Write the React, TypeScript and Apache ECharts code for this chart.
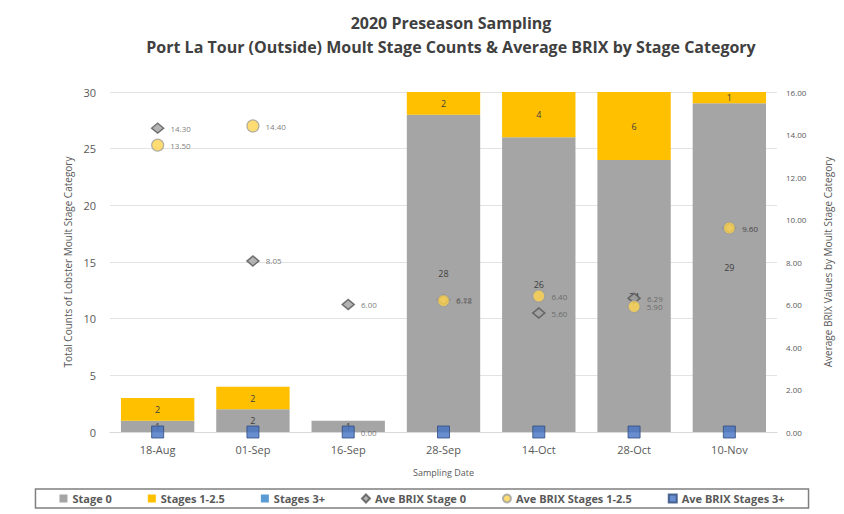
import React, { useEffect, useRef } from "react";
import * as echarts from "echarts";

const categories = ["18-Aug", "01-Sep", "16-Sep", "28-Sep", "14-Oct", "28-Oct", "10-Nov"];
const stage0Counts = [1, 2, 1, 28, 26, 24, 29];
const stages125Counts = [2, 2, 0, 2, 4, 6, 1];
const stages3Counts = [0, 0, 0, 0, 0, 0, 0];
const brixStage0: (number | null)[] = [14.3, 8.05, 6.0, 6.22, 5.6, 6.29, 9.6];
const brixStages125: (number | null)[] = [13.5, 14.4, null, 6.18, 6.4, 5.9, 9.6];
const brixStages3: (number | null)[] = [0, 0, 0, 0, 0, 0, 0];

const FONT = "'Open Sans', 'Noto Sans', sans-serif";
const TXT = "#595959";

export default function App() {
  const ref = useRef<HTMLDivElement>(null);
  useEffect(() => {
    if (!ref.current) return;
    const chart = echarts.init(ref.current, null, { renderer: "svg" });
    const countLabel = {
      show: true,
      position: "inside",
      fontSize: 9,
      color: "#404040",
      fontFamily: FONT,
      formatter: (p: any) => (p.value ? String(p.value) : ""),
    };
    const brixLabel = {
      show: true,
      position: "right",
      distance: 6,
      fontSize: 8,
      color: TXT,
      fontFamily: FONT,
      formatter: (p: any) => (p.value == null ? "" : Number(p.value).toFixed(2)),
    };
    chart.setOption({
      animation: false,
      backgroundColor: "#fff",
      textStyle: { fontFamily: FONT },
      title: {
        text: "2020 Preseason Sampling\nPort La Tour (Outside) Moult Stage Counts & Average BRIX by Stage Category",
        left: 446,
        top: 6,
        textAlign: "center",
        textStyle: { fontSize: 16, fontWeight: "bold", color: "#404040", lineHeight: 24, fontFamily: FONT },
      },
      legend: {
        bottom: 6,
        left: "center",
        padding: [4, 24],
        borderColor: "#7F7F7F",
        borderWidth: 1.5,
        itemGap: 36,
        itemWidth: 8,
        itemHeight: 8,
        textStyle: { fontSize: 11, fontWeight: "bold", color: TXT, fontFamily: FONT },
        data: [
          { name: "Stage 0", icon: "rect" },
          { name: "Stages 1-2.5", icon: "rect" },
          { name: "Stages 3+", icon: "rect" },
          { name: "Ave BRIX Stage 0" },
          { name: "Ave BRIX Stages 1-2.5" },
          { name: "Ave BRIX Stages 3+" },
        ],
      },
      grid: { left: 110, right: 67, top: 92, bottom: 82 },
      xAxis: {
        type: "category",
        data: categories,
        name: "Sampling Date",
        nameLocation: "middle",
        nameGap: 36,
        nameTextStyle: { fontSize: 9, color: TXT },
        axisLine: { lineStyle: { color: "#D9D9D9" } },
        axisTick: { show: false },
        axisLabel: { fontSize: 11, color: TXT, margin: 12 },
      },
      yAxis: [
        {
          type: "value",
          min: 0,
          max: 30,
          interval: 5,
          name: "Total Counts of Lobster Moult Stage Category",
          nameLocation: "middle",
          nameGap: 36,
          nameTextStyle: { fontSize: 10, color: TXT },
          axisLabel: { fontSize: 11, color: TXT, margin: 14 },
          splitLine: { lineStyle: { color: "#E3E3E3" } },
          axisLine: { show: false },
        },
        {
          type: "value",
          min: 0,
          max: 16,
          interval: 2,
          name: "Average BRIX Values by Moult Stage Category",
          nameLocation: "middle",
          nameGap: 46,
          nameTextStyle: { fontSize: 10, color: TXT },
          axisLabel: { fontSize: 8, color: TXT, margin: 9, formatter: (v: number) => v.toFixed(2) },
          splitLine: { show: false },
          axisLine: { show: false },
        },
      ],
      series: [
        {
          name: "Stage 0",
          type: "bar",
          stack: "c",
          data: stage0Counts,
          barCategoryGap: "23%",
          itemStyle: { color: "#A5A5A5" },
          label: countLabel,
        },
        {
          name: "Stages 1-2.5",
          type: "bar",
          stack: "c",
          data: stages125Counts,
          itemStyle: { color: "#FFC000" },
          label: countLabel,
        },
        {
          name: "Stages 3+",
          type: "bar",
          stack: "c",
          data: stages3Counts,
          itemStyle: { color: "#5B9BD5" },
          label: countLabel,
        },
        {
          name: "Ave BRIX Stage 0",
          type: "scatter",
          yAxisIndex: 1,
          symbol: "diamond",
          symbolSize: [12, 10],
          data: brixStage0,
          itemStyle: { color: "#A0A0A0", borderColor: "#555555", borderWidth: 1.5 },
          label: brixLabel,
          z: 3,
        },
        {
          name: "Ave BRIX Stages 1-2.5",
          type: "scatter",
          yAxisIndex: 1,
          symbol: "circle",
          symbolSize: 12,
          data: brixStages125,
          itemStyle: { color: "#FFD44F", borderColor: "#9E9E9E", borderWidth: 1.2 },
          label: brixLabel,
          z: 4,
        },
        {
          name: "Ave BRIX Stages 3+",
          type: "scatter",
          yAxisIndex: 1,
          symbol: "rect",
          symbolSize: 12,
          data: brixStages3,
          itemStyle: { color: "#4472C4", borderColor: "#2F4B7C", borderWidth: 1 },
          label: {
            ...brixLabel,
            formatter: (p: any) => (p.dataIndex === 2 ? Number(p.value).toFixed(2) : ""),
          },
          z: 5,
        },
      ],
    });
    return () => chart.dispose();
  }, []);
  return <div ref={ref} style={{ width: 844, height: 514, position: "absolute", left: 0, top: 0 }} />;
}
